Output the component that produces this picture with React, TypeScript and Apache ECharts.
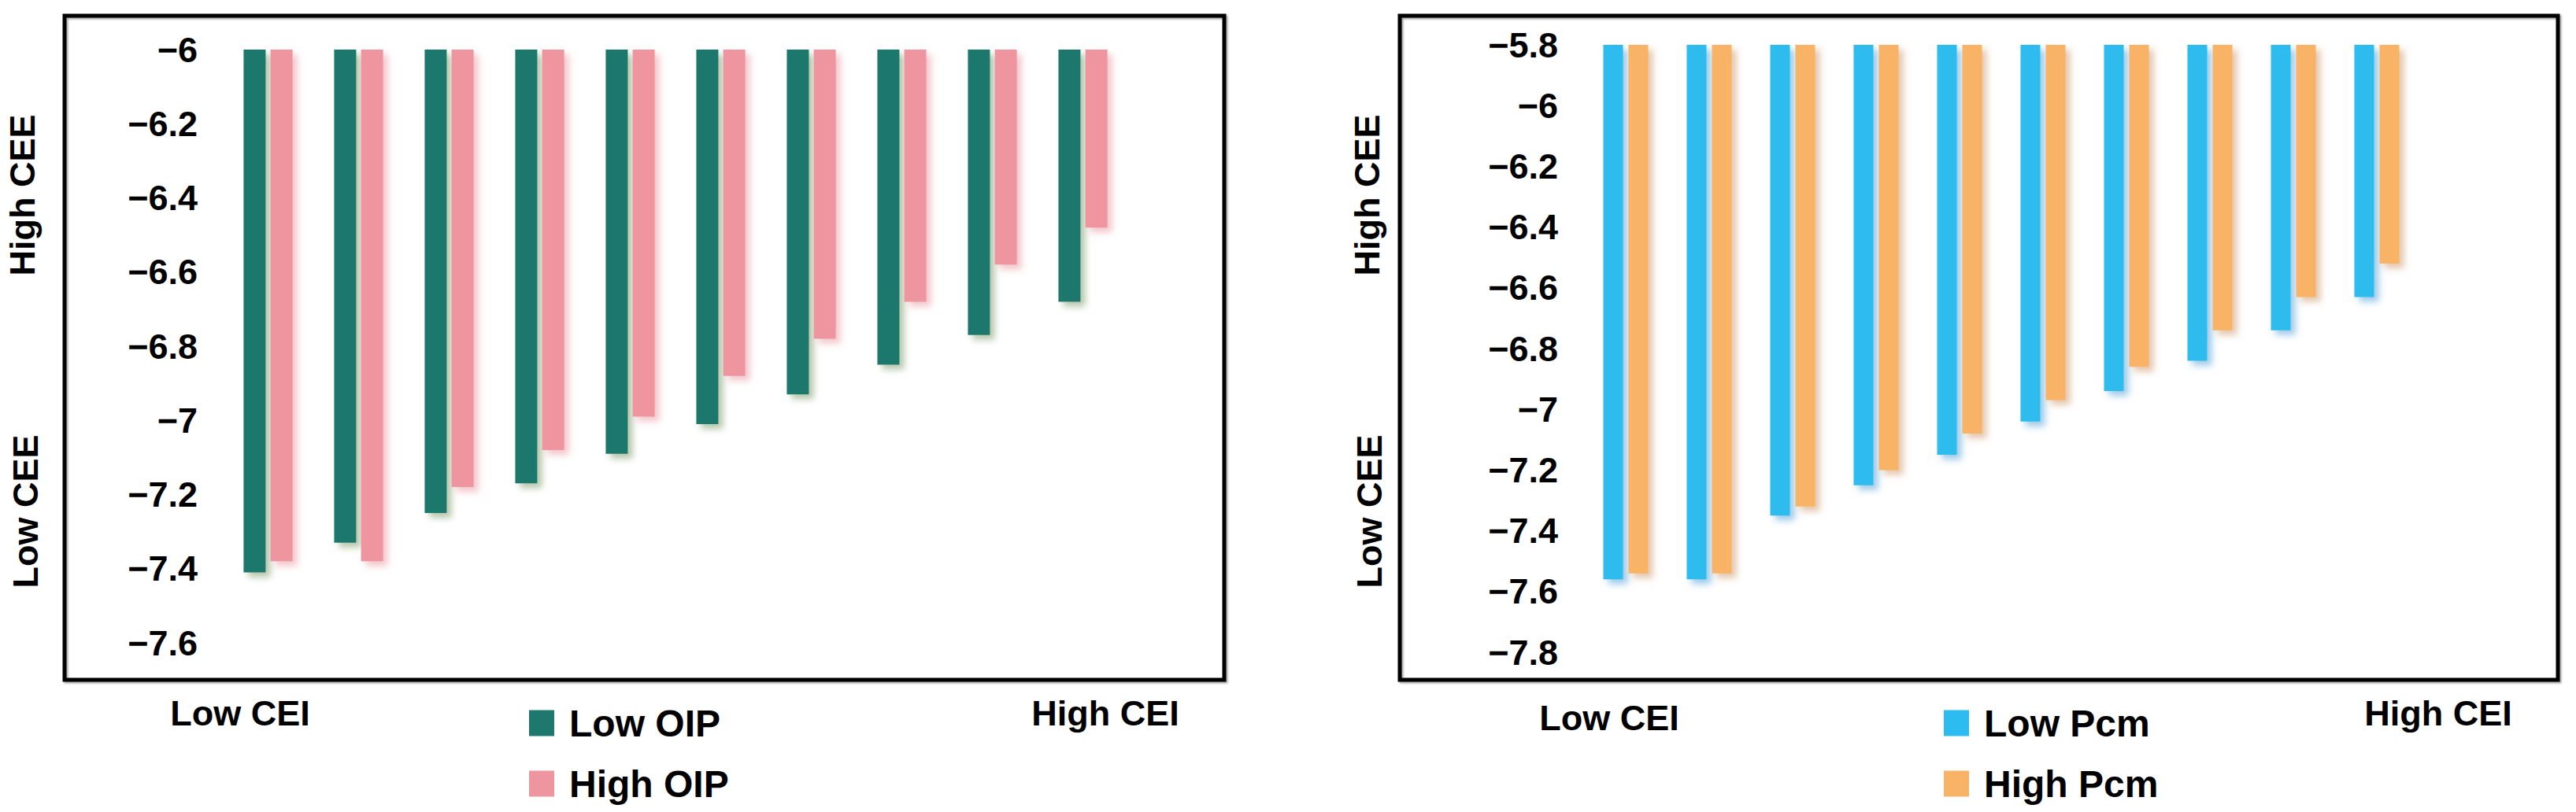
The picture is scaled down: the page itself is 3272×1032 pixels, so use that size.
import React, { useEffect, useRef } from "react";
import * as echarts from "echarts";

// ---- data ----
const categories = ["1", "2", "3", "4", "5", "6", "7", "8", "9", "10"];
const lowOIP = [-7.41, -7.33, -7.25, -7.17, -7.09, -7.01, -6.93, -6.85, -6.77, -6.68];
const highOIP = [-7.38, -7.38, -7.18, -7.08, -6.99, -6.88, -6.78, -6.68, -6.58, -6.48];
const lowPcm = [-7.56, -7.56, -7.35, -7.25, -7.15, -7.04, -6.94, -6.84, -6.74, -6.63];
const highPcm = [-7.54, -7.54, -7.32, -7.2, -7.08, -6.97, -6.86, -6.74, -6.63, -6.52];
const leftYMin = -7.6;
const leftYMax = -6;
const rightYMin = -7.8;
const rightYMax = -5.8;
const yStep = 0.2;
const xLowLabel = "Low CEI";
const xHighLabel = "High CEI";
const yHighLabel = "High CEE";
const yLowLabel = "Low CEE";

const FONT = "'Liberation Sans', Arial, sans-serif";

const fmt = (v: number) => {
  const r = Math.round(v * 10) / 10;
  return (r < 0 ? "\u2212" : "") + String(Math.abs(r));
};

const shadowStyle = (color: string, shadow: string) => ({
  color,
  shadowColor: shadow,
  shadowBlur: 8,
  shadowOffsetX: 6,
  shadowOffsetY: 6,
});

export default function App() {
  const ref = useRef<HTMLDivElement>(null);
  useEffect(() => {
    document.body.style.margin = "0";
    if (!ref.current) return;
    const chart = echarts.init(ref.current, undefined, { renderer: "svg" });

    const yAxisCommon = (min: number, max: number, gridIndex: number, margin: number) => ({
      type: "value",
      gridIndex,
      min,
      max,
      interval: yStep,
      axisLine: { show: false },
      axisTick: { show: false },
      splitLine: { show: false },
      axisLabel: {
        formatter: fmt,
        color: "#000",
        fontSize: 45,
        fontWeight: "bold",
        fontFamily: FONT,
        margin,
      },
    });
    const xAxisCommon = (gridIndex: number) => ({
      type: "category",
      gridIndex,
      data: categories,
      axisLine: { show: false },
      axisTick: { show: false },
      axisLabel: { show: false },
      splitLine: { show: false },
    });

    const textStyle = {
      fontSize: 45,
      fontWeight: "bold",
      fontFamily: FONT,
      fill: "#000",
    };
    const txt = (x: number, y: number, text: string, rotate = false) => ({
      type: "text",
      x,
      y,
      rotation: rotate ? Math.PI / 2 : 0,
      style: { ...textStyle, text, textAlign: "center", textVerticalAlign: "middle" },
      z: 10,
    });
    const frame = (x1: number, y1: number, x2: number, y2: number) => ({
      type: "rect",
      shape: { x: x1, y: y1, width: x2 - x1, height: y2 - y1 },
      style: {
        fill: "none",
        stroke: "#000",
        lineWidth: 5,
        shadowColor: "rgba(0,0,0,0.35)",
        shadowBlur: 2,
        shadowOffsetX: 2,
        shadowOffsetY: 2,
      },
      z: 0,
    });

    const legendCommon = {
      orient: "vertical",
      itemWidth: 32,
      itemHeight: 33,
      itemGap: 29,
      icon: "rect",
      itemStyle: { shadowBlur: 0, shadowOffsetX: 0, shadowOffsetY: 0 },
      textStyle: {
        fontSize: 48,
        fontWeight: "bold",
        fontFamily: FONT,
        color: "#000",
        lineHeight: 48,
        padding: [0, 0, 0, 14],
      },
    };

    chart.setOption({
      animation: false,
      backgroundColor: "#fff",
      grid: [
        { left: 283, top: 63, width: 1150, height: 754 },
        { left: 2012, top: 57, width: 1060, height: 772 },
      ],
      xAxis: [xAxisCommon(0), xAxisCommon(1)],
      yAxis: [
        yAxisCommon(leftYMin, leftYMax, 0, 32),
        yAxisCommon(rightYMin, rightYMax, 1, 33),
      ],
      legend: [
        { ...legendCommon, data: ["Low OIP", "High OIP"], left: 667, top: 890 },
        { ...legendCommon, data: ["Low Pcm", "High Pcm"], left: 2464, top: 890 },
      ],
      series: [
        {
          type: "bar",
          name: "Low OIP",
          xAxisIndex: 0,
          yAxisIndex: 0,
          data: lowOIP,
          barWidth: 28,
          barGap: "22%",
          clip: true,
          itemStyle: shadowStyle("#1E786D", "rgba(120,150,100,0.55)"),
        },
        {
          type: "bar",
          name: "High OIP",
          xAxisIndex: 0,
          yAxisIndex: 0,
          data: highOIP,
          barWidth: 28,
          barGap: "22%",
          clip: true,
          itemStyle: shadowStyle("#EF95A0", "rgba(230,140,150,0.5)"),
        },
        {
          type: "bar",
          name: "Low Pcm",
          xAxisIndex: 1,
          yAxisIndex: 1,
          data: lowPcm,
          barWidth: 25,
          barGap: "28%",
          clip: true,
          itemStyle: shadowStyle("#2DBCEF", "rgba(60,150,210,0.5)"),
        },
        {
          type: "bar",
          name: "High Pcm",
          xAxisIndex: 1,
          yAxisIndex: 1,
          data: highPcm,
          barWidth: 25,
          barGap: "28%",
          clip: true,
          itemStyle: shadowStyle("#F8B366", "rgba(200,140,90,0.5)"),
        },
      ],
      graphic: [
        frame(82, 20, 1555, 864),
        frame(1778, 20, 3249, 864),
        txt(28, 248, yHighLabel, true),
        txt(32, 650, yLowLabel, true),
        txt(1736, 248, yHighLabel, true),
        txt(1739, 650, yLowLabel, true),
        txt(305, 906, xLowLabel),
        txt(1404, 906, xHighLabel),
        txt(2044, 912, xLowLabel),
        txt(3097, 906, xHighLabel),
      ],
    });
    return () => chart.dispose();
  }, []);
  return <div ref={ref} style={{ width: 3272, height: 1032 }} />;
}
